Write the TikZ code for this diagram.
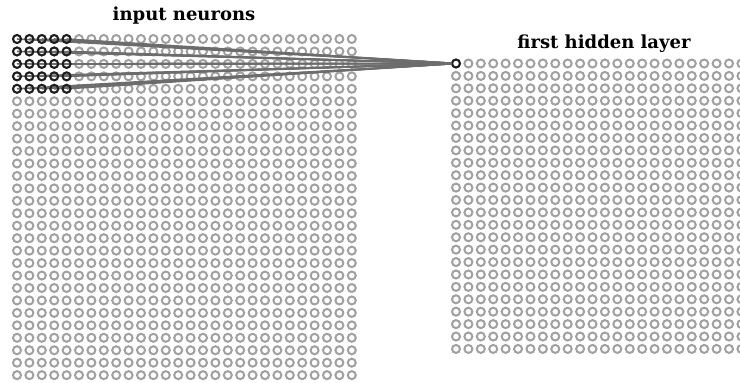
\documentclass[tikz,border=0pt]{standalone}
\usepackage{fontspec}
\setmainfont{DejaVu Serif}
\definecolor{neurgray}{HTML}{A0A0A0}
\definecolor{linkgray}{HTML}{6C6C6C}
\definecolor{neurdark}{HTML}{1E1E1E}
\tikzset{
  neuron/.style={circle,draw=neurgray,line width=2pt,minimum size=8pt,inner sep=0pt},
  active/.style={neuron,draw=neurdark},
  link/.style={draw=linkgray,line width=1.6pt},
  caption/.style={font=\fontsize{18}{20}\selectfont\bfseries,text=black,inner sep=0pt,anchor=base}
}
\begin{document}
\begin{tikzpicture}[x=1pt,y=-1pt]
\useasboundingbox (0,0) rectangle (740,383);
\clip (0,0) rectangle (740,383);
% input neurons 28x28
\foreach \i in {0,...,27}{
  \foreach \j in {0,...,27}{
    \node[neuron] (in-\i-\j) at ({17+12.4*\i},{39+12.45*\j}) {};
  }
}
% first hidden layer 24x24
\foreach \i in {0,...,23}{
  \foreach \j in {0,...,23}{
    \node[neuron] (hid-\i-\j) at ({456+12.41*\i},{63.5+12.41*\j}) {};
  }
}
\node[active] (h0) at (hid-0-0) {};
% connections
\foreach \i in {0,...,4}{
  \foreach \j in {0,...,4}{
    \draw[link] (in-\i-\j.center) -- (h0);
  }
}
\foreach \i in {0,...,4}{
  \foreach \j in {0,...,4}{
    \node[active] at (in-\i-\j) {};
  }
}
\node[caption] (t1) at (184,20) {input neurons};
\node[caption] (t2) at (604,48) {first hidden layer};
\end{tikzpicture}
\end{document}
